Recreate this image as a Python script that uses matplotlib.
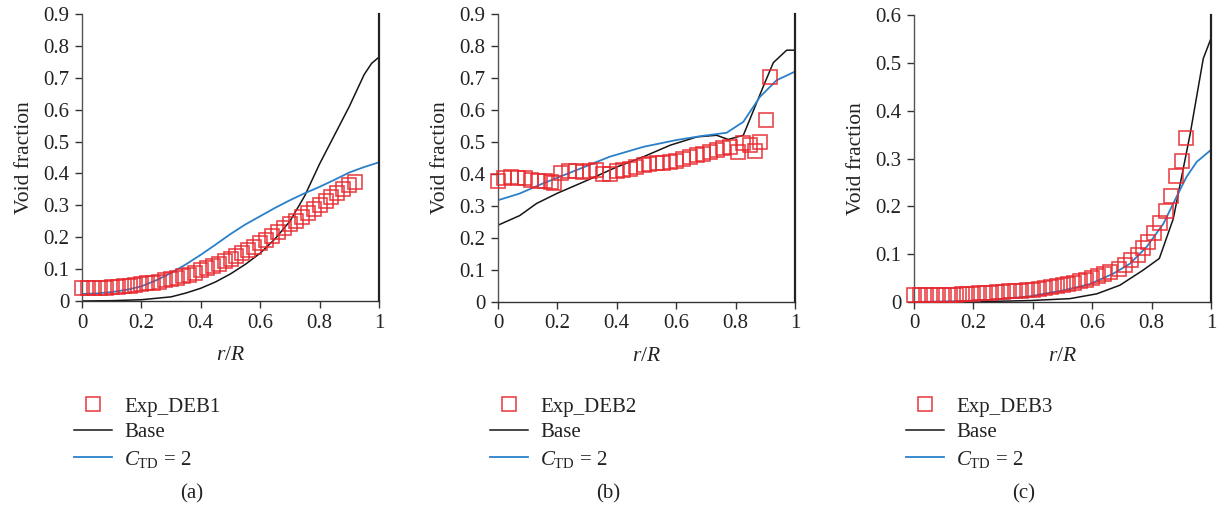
import matplotlib
matplotlib.use("Agg")
import matplotlib.pyplot as plt
from matplotlib.lines import Line2D

plt.rcParams['font.family'] = ['Liberation Serif', 'DejaVu Serif']
plt.rcParams['mathtext.fontset'] = 'custom'
plt.rcParams['mathtext.rm'] = 'Liberation Serif'
plt.rcParams['mathtext.it'] = 'Liberation Serif:italic'

# ---------------- Panel (a) ----------------
exp_a_x = [0.00, 0.02, 0.04, 0.06, 0.08, 0.10, 0.12, 0.14, 0.16, 0.18, 0.20, 0.22, 0.24, 0.26,
           0.28, 0.30, 0.32, 0.34, 0.36, 0.38, 0.40, 0.42, 0.44, 0.46, 0.48, 0.50, 0.52, 0.54,
           0.56, 0.58, 0.60, 0.62, 0.64, 0.66, 0.68, 0.70, 0.72, 0.74, 0.76, 0.78, 0.80, 0.82,
           0.84, 0.86, 0.88, 0.90, 0.92]
exp_a_y = [0.040, 0.040, 0.040, 0.041, 0.042, 0.043, 0.045, 0.046, 0.048, 0.050, 0.052, 0.055,
           0.058, 0.061, 0.065, 0.069, 0.073, 0.078, 0.083, 0.089, 0.096, 0.103, 0.110, 0.117,
           0.125, 0.133, 0.142, 0.151, 0.160, 0.170, 0.181, 0.192, 0.204, 0.216, 0.228, 0.240,
           0.252, 0.264, 0.276, 0.288, 0.300, 0.313, 0.326, 0.340, 0.352, 0.363, 0.372]
base_a_x = [0.0, 0.1, 0.2, 0.3, 0.35, 0.4, 0.45, 0.5, 0.55, 0.6, 0.65, 0.7, 0.75, 0.8, 0.85,
            0.9, 0.95, 0.975, 1.0]
base_a_y = [0.0, 0.001, 0.004, 0.013, 0.025, 0.040, 0.060, 0.085, 0.115, 0.150, 0.195, 0.250,
            0.330, 0.430, 0.520, 0.610, 0.710, 0.745, 0.765]
ctd_a_x = [0.0, 0.05, 0.1, 0.15, 0.2, 0.25, 0.3, 0.35, 0.4, 0.45, 0.5, 0.55, 0.6, 0.65, 0.7,
           0.75, 0.8, 0.85, 0.9, 0.95, 1.0]
ctd_a_y = [0.022, 0.024, 0.028, 0.035, 0.046, 0.065, 0.088, 0.115, 0.145, 0.177, 0.210, 0.240,
           0.266, 0.292, 0.316, 0.338, 0.358, 0.380, 0.403, 0.420, 0.435]

# ---------------- Panel (b) ----------------
exp_b_x = [0.00, 0.02, 0.045, 0.067, 0.09, 0.112, 0.135, 0.157, 0.18, 0.19, 0.213, 0.24, 0.264,
           0.286, 0.31, 0.33, 0.354, 0.376, 0.40, 0.42, 0.444, 0.466, 0.49, 0.51, 0.534, 0.556,
           0.58, 0.60, 0.624, 0.646, 0.67, 0.69, 0.713, 0.736, 0.758, 0.78, 0.809, 0.826, 0.85,
           0.865, 0.882, 0.904, 0.915]
exp_b_y = [0.379, 0.386, 0.391, 0.386, 0.386, 0.380, 0.378, 0.378, 0.375, 0.372, 0.402, 0.410,
           0.409, 0.405, 0.409, 0.412, 0.401, 0.401, 0.410, 0.414, 0.417, 0.422, 0.427, 0.430,
           0.435, 0.435, 0.438, 0.441, 0.448, 0.454, 0.459, 0.464, 0.469, 0.474, 0.480, 0.485,
           0.470, 0.496, 0.490, 0.473, 0.500, 0.569, 0.704]
base_b_x = [0.0, 0.073, 0.13, 0.2, 0.3, 0.4, 0.49, 0.58, 0.67, 0.736, 0.775, 0.826, 0.893,
            0.927, 0.972, 1.0]
base_b_y = [0.240, 0.270, 0.308, 0.340, 0.380, 0.422, 0.454, 0.490, 0.516, 0.521, 0.508, 0.521,
            0.673, 0.748, 0.787, 0.787]
ctd_b_x = [0.0, 0.073, 0.15, 0.264, 0.376, 0.49, 0.6, 0.68, 0.77, 0.826, 0.882, 0.938, 1.0]
ctd_b_y = [0.318, 0.339, 0.370, 0.412, 0.454, 0.485, 0.506, 0.518, 0.529, 0.563, 0.641, 0.693,
           0.720]

# ---------------- Panel (c) ----------------
exp_c_x = [0.00, 0.02, 0.04, 0.06, 0.08, 0.10, 0.12, 0.14, 0.16, 0.18, 0.20, 0.22, 0.24, 0.26,
           0.28, 0.30, 0.32, 0.34, 0.36, 0.38, 0.40, 0.42, 0.44, 0.46, 0.48, 0.50, 0.52, 0.54,
           0.56, 0.58, 0.60, 0.62, 0.64, 0.66, 0.69, 0.71, 0.73, 0.755, 0.772, 0.789, 0.808,
           0.828, 0.848, 0.864, 0.882, 0.901, 0.916]
exp_c_y = [0.014, 0.014, 0.014, 0.014, 0.014, 0.015, 0.015, 0.015, 0.016, 0.016, 0.017, 0.018,
           0.019, 0.019, 0.020, 0.021, 0.022, 0.023, 0.024, 0.025, 0.026, 0.028, 0.030, 0.032,
           0.034, 0.036, 0.038, 0.040, 0.043, 0.046, 0.050, 0.054, 0.058, 0.063, 0.070, 0.078,
           0.088, 0.099, 0.112, 0.125, 0.145, 0.165, 0.190, 0.222, 0.263, 0.294, 0.342]
base_c_x = [0.0, 0.165, 0.39, 0.525, 0.615, 0.693, 0.77, 0.826, 0.873, 0.93, 0.974, 1.0]
base_c_y = [0.0, 0.0, 0.003, 0.007, 0.017, 0.035, 0.066, 0.091, 0.174, 0.352, 0.509, 0.551]
ctd_c_x = [0.0, 0.165, 0.277, 0.39, 0.5, 0.59, 0.67, 0.727, 0.783, 0.84, 0.884, 0.918, 0.952, 1.0]
ctd_c_y = [0.0, 0.002, 0.005, 0.012, 0.024, 0.037, 0.059, 0.080, 0.115, 0.164, 0.220, 0.262,
           0.293, 0.318]

exp_labels = ["Exp_DEB1", "Exp_DEB2", "Exp_DEB3"]
captions = ["(a)", "(b)", "(c)"]
ymaxes = [0.9, 0.9, 0.6]
xticks = [0, 0.2, 0.4, 0.6, 0.8, 1]
xticklabels = ["0", "0.2", "0.4", "0.6", "0.8", "1"]
yticks_list = [[0, 0.1, 0.2, 0.3, 0.4, 0.5, 0.6, 0.7, 0.8, 0.9],
               [0, 0.1, 0.2, 0.3, 0.4, 0.5, 0.6, 0.7, 0.8, 0.9],
               [0, 0.1, 0.2, 0.3, 0.4, 0.5, 0.6]]

panels = [
    (exp_a_x, exp_a_y, base_a_x, base_a_y, ctd_a_x, ctd_a_y),
    (exp_b_x, exp_b_y, base_b_x, base_b_y, ctd_b_x, ctd_b_y),
    (exp_c_x, exp_c_y, base_c_x, base_c_y, ctd_c_x, ctd_c_y),
]

RED = '#e8262c'
BLUE = '#2b80c9'
BLACK = '#161616'

fig = plt.figure(figsize=(12.18, 5.08), dpi=100)
lefts = [82, 498, 914]
W, H = 1218.0, 508.0
tick_fs = 15
label_fs = 15.5
leg_fs = 15

for i, (ex, ey, bx, by, cx, cy) in enumerate(panels):
    top = 14 if i < 2 else 15
    bottom = 301 if i == 0 else 302
    ax = fig.add_axes([lefts[i] / W, 1 - bottom / H, 297 / W, (bottom - top) / H])
    ax.plot(bx, by, color=BLACK, lw=1.1, zorder=2)
    ax.plot(cx, cy, color=BLUE, lw=1.3, zorder=2)
    ax.plot(ex, ey, linestyle='none', marker='s', markersize=9.5, markerfacecolor='none',
            markeredgecolor=RED, markeredgewidth=1.2, alpha=0.85, zorder=3, clip_on=False)
    ax.set_xlim(0, 1)
    ax.set_ylim(0, ymaxes[i])
    ax.set_xticks(xticks)
    ax.set_xticklabels(xticklabels)
    ax.set_yticks(yticks_list[i])
    ax.set_yticklabels([("0" if v == 0 else f"{v:.1f}") for v in yticks_list[i]])
    ax.tick_params(axis='both', direction='out', length=5, width=1.0, labelsize=tick_fs,
                   pad=4, color='#333333', labelcolor='#222222')
    ax.spines['top'].set_visible(False)
    ax.spines['left'].set_color('#555555')
    ax.spines['left'].set_linewidth(1.0)
    ax.spines['bottom'].set_color('#333333')
    ax.spines['bottom'].set_linewidth(1.0)
    ax.spines['right'].set_color('#222222')
    ax.spines['right'].set_linewidth(1.6)
    ax.set_ylabel("Void fraction", fontsize=label_fs, color='#222222', labelpad=7)
    ax.set_xlabel(r"$r/R$", fontsize=label_fs, color='#222222', labelpad=10)

    handles = [
        Line2D([], [], linestyle='none', marker='s', markersize=9.5, markerfacecolor='none',
               markeredgecolor=RED, markeredgewidth=1.2, alpha=0.85),
        Line2D([], [], color=BLACK, lw=1.1),
        Line2D([], [], color=BLUE, lw=1.3),
    ]
    labels = [exp_labels[i], "Base", r"$C_{\mathrm{TD}}$ = 2"]
    ax.legend(handles, labels, loc='upper left',
              bbox_to_anchor=((lefts[i] - 8) / W, 1 - 397 / H),
              bbox_transform=fig.transFigure, frameon=False, fontsize=leg_fs,
              handlelength=1.8, handletextpad=0.6, labelspacing=0.3,
              borderaxespad=0, borderpad=0, labelcolor='#222222')
    fig.text((lefts[i] + 110) / W, 1 - 494 / H, captions[i], fontsize=leg_fs,
             ha='center', va='center', color='#222222')

fig.savefig("out.png", dpi=100)
